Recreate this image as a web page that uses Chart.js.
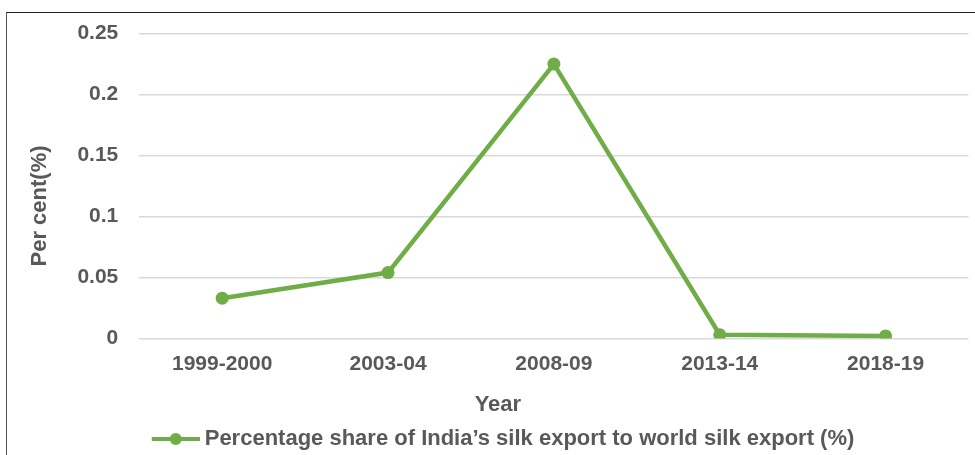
<!DOCTYPE html>
<html>
<head>
<meta charset="utf-8">
<script src="https://cdn.jsdelivr.net/npm/chart.js@4.4.0/dist/chart.umd.min.js"></script>
<style>
  html, body { margin: 0; padding: 0; background: #fff; }
  body { width: 975px; height: 455px; position: relative; overflow: hidden; }
  #frame {
    position: absolute; left: 6px; top: 12px; width: 975px; height: 450px;
    border-left: 1.5px solid #555; border-top: 1.5px solid #222;
  }
  #wrap { position: absolute; left: 7px; top: 0px; width: 968px; height: 455px; }
</style>
</head>
<body>
<div id="frame"></div>
<div id="wrap"><canvas id="myChart"></canvas></div>
<script>
let years = ['1999-2000', '2003-04', '2008-09', '2013-14', '2018-19'];
let shareValues = [0.033, 0.054, 0.225, 0.003, 0.002];
let yTicks = [0, 0.05, 0.1, 0.15, 0.2, 0.25];
let seriesName = 'Percentage share of India\u2019s silk export to world silk export (%)';
let xTitle = 'Year';
let yTitle = 'Per cent(%)';

let green = '#70ad47';
let grey = '#595959';
let font = "'Liberation Sans', Arial, sans-serif";
let titleFont = 'bold 22px ' + font;

// legend marker: line with a dot in the middle, placed at the right of a wider image
let marker = document.createElement('canvas');
marker.width = 64;
marker.height = 14;
let mctx = marker.getContext('2d');
mctx.strokeStyle = green;
mctx.lineWidth = 4;
mctx.beginPath();
mctx.moveTo(16, 7);
mctx.lineTo(64, 7);
mctx.stroke();
mctx.fillStyle = green;
mctx.beginPath();
mctx.arc(40, 7, 6, 0, Math.PI * 2);
mctx.fill();

// axis titles sit off-centre in the original, so draw them by hand
// (the built-in titles stay in place, transparent, to keep their space)
let axisTitles = {
    id: 'axisTitles',
    afterDraw: function (chart) {
        let ctx = chart.ctx;
        let area = chart.chartArea;
        let xs = chart.scales.x;
        let ys = chart.scales.y;
        ctx.save();
        ctx.font = titleFont;
        ctx.fillStyle = grey;
        ctx.textAlign = 'center';
        ctx.textBaseline = 'middle';
        ctx.fillText(xTitle, (area.left + area.right) / 2 - 56, xs.bottom - 13);
        ctx.translate(ys.left + 13, (area.top + area.bottom) / 2 + 20);
        ctx.rotate(-Math.PI / 2);
        ctx.fillText(yTitle, 0, 0);
        ctx.restore();
    }
};

let myChart = document.getElementById('myChart').getContext('2d');

let newChart = new Chart(myChart, {
    type: 'line',
    data: {
        labels: years,
        datasets: [{
            label: seriesName,
            data: shareValues,
            borderColor: green,
            backgroundColor: green,
            borderWidth: 4.5,
            pointRadius: 6.5,
            pointBorderWidth: 0,
            pointHoverRadius: 6.5,
            pointStyle: 'circle',
            tension: 0
        }]
    },
    options: {
        responsive: true,
        maintainAspectRatio: false,
        animation: false,
        layout: {
            padding: { top: 0, right: 6, bottom: -5, left: 20 }
        },
        scales: {
            x: {
                offset: true,
                grid: { display: false, drawTicks: false },
                border: { display: false },
                ticks: {
                    color: grey,
                    padding: 13,
                    maxRotation: 0,
                    font: { family: font, size: 21, weight: 'bold' }
                },
                title: {
                    display: true,
                    text: xTitle,
                    color: 'rgba(0,0,0,0)',
                    padding: { top: 2, bottom: 0 },
                    font: { family: font, size: 22, weight: 'bold' }
                }
            },
            y: {
                min: 0,
                max: 0.25,
                afterBuildTicks: function (axis) {
                    axis.ticks = yTicks.map(function (v) { return { value: v }; });
                },
                grid: { color: '#d9d9d9', lineWidth: 1.5, drawTicks: false },
                border: { display: false },
                ticks: {
                    color: grey,
                    padding: 21,
                    callback: function (v) { return String(v); },
                    font: { family: font, size: 21, weight: 'bold' }
                },
                title: {
                    display: true,
                    text: yTitle,
                    color: 'rgba(0,0,0,0)',
                    padding: { top: 0, bottom: 3 },
                    font: { family: font, size: 22, weight: 'bold' }
                }
            }
        },
        plugins: {
            legend: {
                position: 'bottom',
                labels: {
                    color: grey,
                    usePointStyle: true,
                    pointStyle: marker,
                    pointStyleWidth: 52,
                    padding: 10,
                    font: { family: font, size: 22, weight: 'bold' }
                }
            },
            title: { display: false },
            tooltip: { enabled: false }
        }
    },
    plugins: [axisTitles]
});
</script>
</body>
</html>
